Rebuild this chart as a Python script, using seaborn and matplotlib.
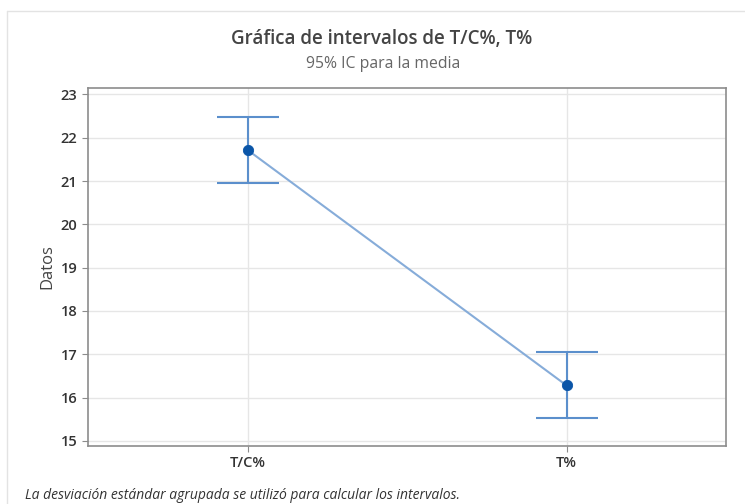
import pandas as pd
import seaborn as sns
from matplotlib import pyplot as plt
from matplotlib.lines import Line2D

# intervalos de confianza del 95%
categorias = ["T/C%", "T%"]
medias = [21.72, 16.28]
inferior = [20.96, 15.52]
superior = [22.49, 17.05]

datos = pd.DataFrame({"variable": categorias, "media": medias,
                      "inf": inferior, "sup": superior})

sns.set_style("white")
plt.rcParams['font.family'] = ['Open Sans', 'DejaVu Sans']

fig = plt.figure(figsize=(7.45, 5.04), dpi=100)
ax = fig.add_axes([88 / 745, 1 - 446 / 504, (726 - 88) / 745, (446 - 88) / 504])

azul_claro = "#5b8fcc"
azul = "#0a55a8"

# linea que une las medias
sns.lineplot(data=datos, x="variable", y="media", ax=ax, color="#86acd9",
             linewidth=1.5, sort=False, zorder=2)

# intervalos
for i, fila in datos.iterrows():
    ax.errorbar(i, fila["media"],
                yerr=[[fila["media"] - fila["inf"]], [fila["sup"] - fila["media"]]],
                fmt="none", ecolor=azul_claro, elinewidth=1.5, capsize=22,
                capthick=1.5, zorder=3)

sns.scatterplot(data=datos, x="variable", y="media", ax=ax, color=azul,
                s=55, edgecolor=azul, zorder=4)

ax.set_xlim(-0.5, 1.5)
ax.set_ylim(14.88, 23.15)
ax.set_yticks(range(15, 24))
ax.grid(True, color="#e6e6e6", linewidth=1)
ax.set_axisbelow(True)
for s in ax.spines.values():
    s.set_color("#8c8c8c")
    s.set_linewidth(1.2)
ax.tick_params(axis="both", length=4, color="#8c8c8c", labelsize=10.5,
               labelcolor="#333333", left=True, bottom=True)
for lab in ax.get_xticklabels() + ax.get_yticklabels():
    lab.set_fontweight("semibold")
ax.set_xlabel("")
ax.set_ylabel("Datos", fontsize=12, color="#444444", labelpad=4)

fig.text(0.512, 0.912, "Gráfica de intervalos de T/C%, T%", ha="center",
         fontsize=13.5, fontweight="semibold", color="#444444")
fig.text(0.514, 0.866, "95% IC para la media", ha="center",
         fontsize=11.3, color="#666666")
fig.text(25 / 745, 1 - 499 / 504,
         "La desviación estándar agrupada se utilizó para calcular los intervalos.",
         fontsize=10, style="italic", color="#333333")

# marco exterior
borde = "#e3e3e3"
fig.add_artist(Line2D([7 / 745, 7 / 745], [0, 1 - 11 / 504], color=borde,
                      linewidth=1, transform=fig.transFigure))
fig.add_artist(Line2D([7 / 745, 1], [1 - 11 / 504, 1 - 11 / 504], color=borde,
                      linewidth=1, transform=fig.transFigure))

fig.savefig("out.png", dpi=100)
